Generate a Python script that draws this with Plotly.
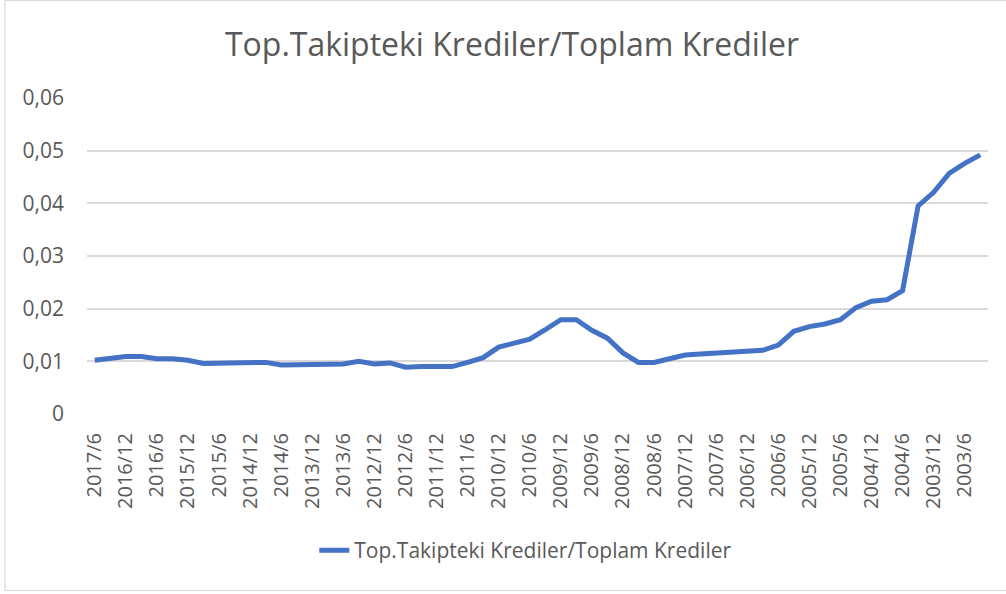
import plotly.graph_objects as go

# Quarterly categories, newest first (2017/6 back to 2003/3)
categories = [
    "2017/6", "2017/3", "2016/12", "2016/9", "2016/6", "2016/3", "2015/12", "2015/9",
    "2015/6", "2015/3", "2014/12", "2014/9", "2014/6", "2014/3", "2013/12", "2013/9",
    "2013/6", "2013/3", "2012/12", "2012/9", "2012/6", "2012/3", "2011/12", "2011/9",
    "2011/6", "2011/3", "2010/12", "2010/9", "2010/6", "2010/3", "2009/12", "2009/9",
    "2009/6", "2009/3", "2008/12", "2008/9", "2008/6", "2008/3", "2007/12", "2007/9",
    "2007/6", "2007/3", "2006/12", "2006/9", "2006/6", "2006/3", "2005/12", "2005/9",
    "2005/6", "2005/3", "2004/12", "2004/9", "2004/6", "2004/3", "2003/12", "2003/9",
    "2003/6", "2003/3",
]

ratio = [
    0.0102, 0.0106, 0.0109, 0.0109, 0.0105, 0.0105, 0.0102, 0.0096,
    0.0096, 0.0096, 0.0096, 0.0098, 0.0093, 0.0093, 0.0095, 0.0093,
    0.0095, 0.0100, 0.0095, 0.0097, 0.0089, 0.0090, 0.0089, 0.0090,
    0.0098, 0.0107, 0.0127, 0.0135, 0.0142, 0.0160, 0.0179, 0.0179,
    0.0159, 0.0144, 0.0116, 0.0098, 0.0098, 0.0105, 0.0112, 0.0114,
    0.0116, 0.0118, 0.0121, 0.0121, 0.0131, 0.0157, 0.0166, 0.0171,
    0.0179, 0.0202, 0.0214, 0.0217, 0.0234, 0.0395, 0.0421, 0.0457,
    0.0476, 0.0492,
]

y_ticks = [0, 0.01, 0.02, 0.03, 0.04, 0.05, 0.06]
x_tick_labels = categories[::2]

series_name = "Top.Takipteki Krediler/Toplam Krediler"
title_text = "Top.Takipteki Krediler/Toplam Krediler"

TEXT = "#595959"
GRID = "#d9d9d9"
FONT = "Open Sans"

fig = go.Figure()
fig.add_trace(go.Scatter(
    x=categories, y=ratio, mode="lines", name=series_name,
    line=dict(color="#4472C4", width=5, shape="linear"),
))

fig.update_layout(
    width=1006, height=594,
    margin=dict(l=87, r=18, t=98, b=180),
    paper_bgcolor="white", plot_bgcolor="white",
    separators=", ",
    font=dict(family=FONT, color=TEXT),
    title=dict(text=title_text, x=512 / 1006, xanchor="center", xref="container",
               y=1 - 45 / 594, yanchor="middle", yref="container",
               font=dict(family=FONT, size=32, color=TEXT)),
    showlegend=True,
    legend=dict(orientation="h", x=0.487, xanchor="center", y=-0.432, yanchor="middle",
                font=dict(family=FONT, size=21, color=TEXT), bgcolor="rgba(0,0,0,0)"),
    xaxis=dict(type="category", categoryorder="array", categoryarray=categories,
               range=[-0.5, len(categories) - 0.5],
               tickmode="array", tickvals=x_tick_labels, ticktext=x_tick_labels,
               tickangle=-90, tickfont=dict(family=FONT, size=20, color=TEXT),
               showgrid=False, zeroline=False, showline=False, ticks="",
               ticklabelstandoff=14),
    yaxis=dict(range=[0, 0.06], tickmode="array", tickvals=y_ticks,
               ticktext=[("0" if v == 0 else f"{v:.2f}".replace(".", ",")) for v in y_ticks],
               tickfont=dict(family=FONT, size=21, color=TEXT),
               showgrid=True, gridcolor=GRID, gridwidth=1.8,
               zeroline=False, showline=False, ticks="", ticklabelstandoff=22),
    shapes=[dict(type="rect", xref="paper", yref="paper",
                 x0=(5 - 87) / 901, x1=(1010 - 87) / 901,
                 y0=-(590.5 - 414) / 316, y1=(414 - 0.5) / 316,
                 line=dict(color=GRID, width=1.2), fillcolor="rgba(0,0,0,0)", layer="below")],
)

fig.write_html("out.html")
